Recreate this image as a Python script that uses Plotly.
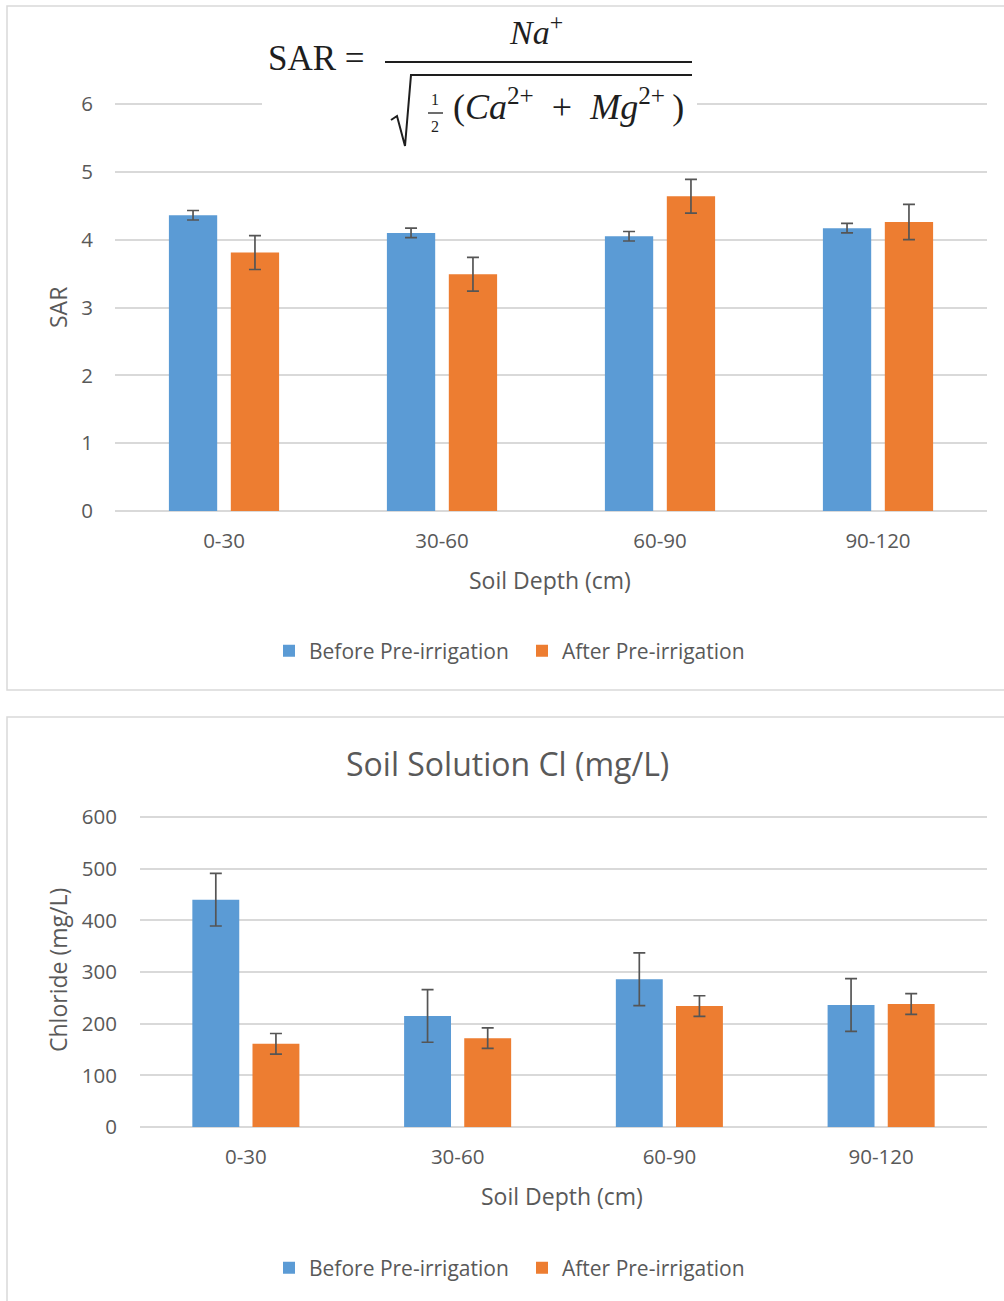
import plotly.graph_objects as go

W, H = 1004, 1301

depths = ["0-30", "30-60", "60-90", "90-120"]
series_names = ["Before Pre-irrigation", "After Pre-irrigation"]

sar_before = [4.36, 4.10, 4.05, 4.17]
sar_before_err = [0.07, 0.07, 0.07, 0.07]
sar_after = [3.81, 3.49, 4.64, 4.26]
sar_after_err = [0.25, 0.25, 0.25, 0.26]

cl_before = [440, 215, 286, 236]
cl_before_err = [51, 51, 51, 51]
cl_after = [161, 172, 234, 238]
cl_after_err = [20, 20, 20, 20]

sar_ticks = [0, 1, 2, 3, 4, 5, 6]
cl_ticks = [0, 100, 200, 300, 400, 500, 600]

BLUE = "#5B9BD5"
ORANGE = "#ED7D31"
GRID = "#D9D9D9"
TXT = "#595959"
ERR = "#555555"
FONT = "Open Sans"
INK = "#1e1e1e"


def px(x):
    return x / W


def py(y):
    return 1 - y / H


fig = go.Figure()

err_style = dict(type="data", color=ERR, thickness=1.7, width=6, visible=True)

fig.add_trace(go.Bar(x=depths, y=sar_before, name=series_names[0], marker_color=BLUE,
                     error_y=dict(array=sar_before_err, **err_style),
                     xaxis="x", yaxis="y", legend="legend"))
fig.add_trace(go.Bar(x=depths, y=sar_after, name=series_names[1], marker_color=ORANGE,
                     error_y=dict(array=sar_after_err, **err_style),
                     xaxis="x", yaxis="y", legend="legend"))
fig.add_trace(go.Bar(x=depths, y=cl_before, name=series_names[0], marker_color=BLUE,
                     error_y=dict(array=cl_before_err, **err_style),
                     xaxis="x2", yaxis="y2", legend="legend2"))
fig.add_trace(go.Bar(x=depths, y=cl_after, name=series_names[1], marker_color=ORANGE,
                     error_y=dict(array=cl_after_err, **err_style),
                     xaxis="x2", yaxis="y2", legend="legend2"))

tickfont = dict(family=FONT, size=20.5, color=TXT)

# ranges slightly extended so the top gridline is drawn
sar_top = 6.02
cl_top = 603
sar_px_per = (511 - 104) / 6.0
cl_px_per = (1127 - 817) / 600.0

legend_common = dict(orientation="h", xanchor="left", yanchor="middle",
                     font=dict(family=FONT, size=21, color=TXT), bgcolor="rgba(0,0,0,0)",
                     itemwidth=30, traceorder="normal", entrywidth=208, entrywidthmode="pixels")

fig.update_layout(
    template="none",
    width=W, height=H,
    margin=dict(l=0, r=0, t=0, b=0, pad=0),
    autosize=False,
    paper_bgcolor="white", plot_bgcolor="white",
    barmode="group", bargap=0.432, bargroupgap=0.22,
    font=dict(family=FONT, color=TXT),
    xaxis=dict(domain=[px(115), px(987)], anchor="y", showgrid=False, showline=False,
               ticks="", tickfont=tickfont, ticklabelstandoff=15, automargin=False),
    yaxis=dict(domain=[py(511), py(511 - sar_top * sar_px_per)], anchor="x",
               range=[0, sar_top], tickvals=sar_ticks,
               showgrid=True, gridcolor=GRID, gridwidth=1.5, zeroline=True,
               zerolinecolor=GRID, zerolinewidth=1.5, showline=False, ticks="",
               tickfont=tickfont, ticklabelstandoff=21, automargin=False),
    xaxis2=dict(domain=[px(140), px(987)], anchor="y2", showgrid=False, showline=False,
                ticks="", tickfont=tickfont, ticklabelstandoff=15, automargin=False),
    yaxis2=dict(domain=[py(1127), py(1127 - cl_top * cl_px_per)], anchor="x2",
                range=[0, cl_top], tickvals=cl_ticks,
                showgrid=True, gridcolor=GRID, gridwidth=1.5, zeroline=True,
                zerolinecolor=GRID, zerolinewidth=1.5, showline=False, ticks="",
                tickfont=tickfont, ticklabelstandoff=22, automargin=False),
    legend=dict(x=px(269), y=py(651), **legend_common),
    legend2=dict(x=px(269), y=py(1268), **legend_common),
    showlegend=True,
)

shapes = []
# chart frames
shapes.append(dict(type="rect", xref="paper", yref="paper", x0=px(7), x1=px(1012),
                   y0=py(690), y1=py(6), line=dict(color=GRID, width=1.5), fillcolor="rgba(0,0,0,0)"))
shapes.append(dict(type="rect", xref="paper", yref="paper", x0=px(7), x1=px(1012),
                   y0=py(1310), y1=py(717), line=dict(color=GRID, width=1.5), fillcolor="rgba(0,0,0,0)"))
# white backing behind the formula
shapes.append(dict(type="rect", xref="paper", yref="paper", x0=px(262), x1=px(697),
                   y0=py(150), y1=py(14), line=dict(width=0), fillcolor="white", layer="above"))
# fraction bar
shapes.append(dict(type="line", xref="paper", yref="paper", x0=px(385), x1=px(692),
                   y0=py(62), y1=py(62), line=dict(color=INK, width=2.2), layer="above"))
# radical sign with vinculum
rad = [(391, 120), (397, 116), (405, 146), (411, 75), (692, 75)]
path = "M " + " L ".join(f"{px(a)},{py(b)}" for a, b in rad)
shapes.append(dict(type="path", xref="paper", yref="paper", path=path,
                   line=dict(color=INK, width=2), layer="above"))
# small 1/2 bar
shapes.append(dict(type="line", xref="paper", yref="paper", x0=px(428), x1=px(443),
                   y0=py(113), y1=py(113), line=dict(color=INK, width=1.3), layer="above"))
fig.update_layout(shapes=shapes)

SERIF = "Liberation Serif"
ann = []


def A(text, x, y, size, family=FONT, color=TXT, xanchor="center", angle=0):
    ann.append(dict(text=text, x=px(x), y=py(y), xref="paper", yref="paper", showarrow=False,
                    xanchor=xanchor, yanchor="middle", textangle=angle,
                    font=dict(family=family, size=size, color=color)))


A("SAR", 58, 308, 23, angle=-90)
A("Soil Depth (cm)", 550, 580, 23)
A("Chloride (mg/L)", 58, 970, 23, angle=-90)
A("Soil Depth (cm)", 562, 1196, 23)
A("Soil Solution Cl (mg/L)", 507, 763, 32)

# formula
A("SAR =", 316, 59, 35, family=SERIF, color=INK)
A("<i>Na</i><sup>+</sup>", 536, 30, 34, family=SERIF, color=INK)
A("1", 435, 100, 16, family=SERIF, color=INK)
A("2", 435, 127, 16, family=SERIF, color=INK)
A("(<i>Ca</i><sup>2+</sup>\u2002+\u2002<i>Mg</i><sup>2+</sup>\u2009)", 568, 104, 36,
  family=SERIF, color=INK)

fig.update_layout(annotations=ann)

fig.write_html("out.html", config={"responsive": False, "displayModeBar": False},
               post_script="document.body.style.margin='0px';")
